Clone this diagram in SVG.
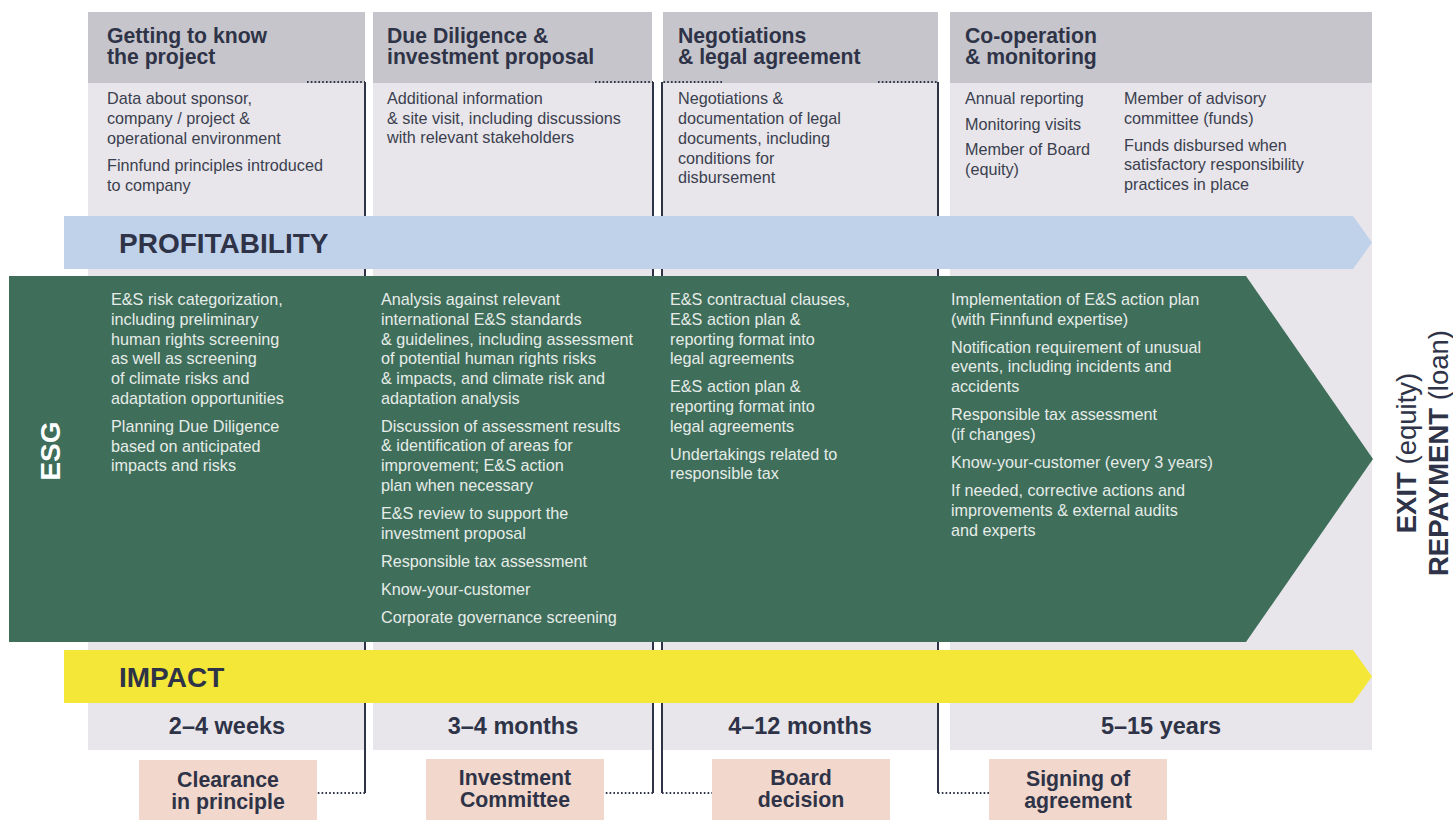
<svg xmlns="http://www.w3.org/2000/svg" width="1453" height="820" viewBox="0 0 1453 820">
<style>
.hdr{fill:#c6c5cb}
.body{fill:#e8e6ea}
.t{font-family:"Liberation Sans",Arial,sans-serif}
.h{font-family:"Liberation Sans",Arial,sans-serif;font-weight:bold;font-size:21.2px;fill:#2e3347}
.b{font-family:"Liberation Sans",Arial,sans-serif;font-size:16.2px;fill:#3b3f4f}
.e{font-family:"Liberation Sans",Arial,sans-serif;font-size:16.2px;fill:#e6ece8}
.dur{font-family:"Liberation Sans",Arial,sans-serif;font-weight:bold;font-size:23.5px;fill:#2e3347;text-anchor:middle}
.ms{font-family:"Liberation Sans",Arial,sans-serif;font-weight:bold;font-size:21.3px;fill:#2e3347;text-anchor:middle}
.big{font-family:"Liberation Sans",Arial,sans-serif;font-weight:bold;font-size:28px;fill:#2e3347}
.solid{stroke:#2e3347;stroke-width:2;fill:none}
.dot{stroke:#2e3347;stroke-width:1.8;fill:none;stroke-dasharray:1.6 2.2}
.peach{fill:#f2d7cc}
</style>

<g id="col1">
<rect class="hdr" x="88" y="12" width="277" height="71"/>
<rect class="body" x="88" y="83" width="277" height="667"/>
</g>
<g id="col2">
<rect class="hdr" x="373" y="12" width="279" height="71"/>
<rect class="body" x="373" y="83" width="279" height="667"/>
</g>
<g id="col3">
<rect class="hdr" x="663" y="12" width="275" height="71"/>
<rect class="body" x="663" y="83" width="275" height="667"/>
</g>
<g id="col4">
<rect class="hdr" x="950" y="12" width="422" height="71"/>
<rect class="body" x="950" y="83" width="422" height="667"/>
</g>

<g id="connectors">
<path class="dot" d="M307 82H365"/>
<path class="solid" d="M365 82V793"/>
<path class="dot" d="M365 793H296"/>
<path class="dot" d="M595 82H653"/>
<path class="solid" d="M653 82V793"/>
<path class="dot" d="M653 793H584"/>
<path class="dot" d="M722 82H662"/>
<path class="solid" d="M662 82V793"/>
<path class="dot" d="M662 793H733"/>
<path class="dot" d="M878 82H938"/>
<path class="solid" d="M938 82V793"/>
<path class="dot" d="M938 793H1009"/>
</g>

<g id="col1-text">
<text class="h" x="107" y="43">Getting to know<tspan x="107" dy="21">the project</tspan></text>
<text class="b" x="107" y="104">Data about sponsor,</text>
<text class="b" x="107" y="124">company / project &amp;</text>
<text class="b" x="107" y="144">operational environment</text>
<text class="b" x="107" y="171">Finnfund principles introduced</text>
<text class="b" x="107" y="191">to company</text>
</g>
<g id="col2-text">
<text class="h" x="387" y="43">Due Diligence &amp;<tspan x="387" dy="21">investment proposal</tspan></text>
<text class="b" x="387" y="104">Additional information</text>
<text class="b" x="387" y="124">&amp; site visit, including discussions</text>
<text class="b" x="387" y="143">with relevant stakeholders</text>
</g>
<g id="col3-text">
<text class="h" x="678" y="43">Negotiations<tspan x="678" dy="21">&amp; legal agreement</tspan></text>
<text class="b" x="678" y="104">Negotiations &amp;</text>
<text class="b" x="678" y="124">documentation of legal</text>
<text class="b" x="678" y="144">documents, including</text>
<text class="b" x="678" y="164">conditions for</text>
<text class="b" x="678" y="183">disbursement</text>
</g>
<g id="col4-text">
<text class="h" x="965" y="43">Co-operation<tspan x="965" dy="21">&amp; monitoring</tspan></text>
<text class="b" x="965" y="104">Annual reporting</text>
<text class="b" x="965" y="130">Monitoring visits</text>
<text class="b" x="965" y="155">Member of Board</text>
<text class="b" x="965" y="175">(equity)</text>
<text class="b" x="1124" y="104">Member of advisory</text>
<text class="b" x="1124" y="124">committee (funds)</text>
<text class="b" x="1124" y="151">Funds disbursed when</text>
<text class="b" x="1124" y="170">satisfactory responsibility</text>
<text class="b" x="1124" y="190">practices in place</text>
</g>

<g id="profitability">
<polygon fill="#c0d1ea" points="64,216 1353,216 1372,242.5 1353,269 64,269"/>
<text class="big" x="119" y="253">PROFITABILITY</text>
</g>

<g id="esg">
<polygon fill="#3f6e5b" points="9,276 1246,276 1373,459 1246,642 9,642"/>
<text class="t" transform="translate(60,451) rotate(-90)" text-anchor="middle" font-weight="bold" font-size="28" fill="#ffffff">ESG</text>
<text class="e" x="111" y="305">E&amp;S risk categorization,</text>
<text class="e" x="111" y="325">including preliminary</text>
<text class="e" x="111" y="345">human rights screening</text>
<text class="e" x="111" y="364">as well as screening</text>
<text class="e" x="111" y="384">of climate risks and</text>
<text class="e" x="111" y="404">adaptation opportunities</text>
<text class="e" x="111" y="432">Planning Due Diligence</text>
<text class="e" x="111" y="452">based on anticipated</text>
<text class="e" x="111" y="471">impacts and risks</text>

<text class="e" x="381" y="305">Analysis against relevant</text>
<text class="e" x="381" y="325">international E&amp;S standards</text>
<text class="e" x="381" y="345">&amp; guidelines, including assessment</text>
<text class="e" x="381" y="364">of potential human rights risks</text>
<text class="e" x="381" y="384">&amp; impacts, and climate risk and</text>
<text class="e" x="381" y="404">adaptation analysis</text>
<text class="e" x="381" y="432">Discussion of assessment results</text>
<text class="e" x="381" y="451">&amp; identification of areas for</text>
<text class="e" x="381" y="471">improvement; E&amp;S action</text>
<text class="e" x="381" y="491">plan when necessary</text>
<text class="e" x="381" y="519">E&amp;S review to support the</text>
<text class="e" x="381" y="539">investment proposal</text>
<text class="e" x="381" y="567">Responsible tax assessment</text>
<text class="e" x="381" y="595">Know-your-customer</text>
<text class="e" x="381" y="623">Corporate governance screening</text>

<text class="e" x="670" y="305">E&amp;S contractual clauses,</text>
<text class="e" x="670" y="325">E&amp;S action plan &amp;</text>
<text class="e" x="670" y="345">reporting format into</text>
<text class="e" x="670" y="364">legal agreements</text>
<text class="e" x="670" y="392">E&amp;S action plan &amp;</text>
<text class="e" x="670" y="412">reporting format into</text>
<text class="e" x="670" y="432">legal agreements</text>
<text class="e" x="670" y="460">Undertakings related to</text>
<text class="e" x="670" y="479">responsible tax</text>

<text class="e" x="951" y="305">Implementation of E&amp;S action plan</text>
<text class="e" x="951" y="325">(with Finnfund expertise)</text>
<text class="e" x="951" y="353">Notification requirement of unusual</text>
<text class="e" x="951" y="372">events, including incidents and</text>
<text class="e" x="951" y="392">accidents</text>
<text class="e" x="951" y="420">Responsible tax assessment</text>
<text class="e" x="951" y="440">(if changes)</text>
<text class="e" x="951" y="468">Know-your-customer (every 3 years)</text>
<text class="e" x="951" y="496">If needed, corrective actions and</text>
<text class="e" x="951" y="516">improvements &amp; external audits</text>
<text class="e" x="951" y="536">and experts</text>
</g>

<g id="impact">
<polygon fill="#f4e737" points="64,650 1353,650 1372,676.5 1353,703 64,703"/>
<text class="big" x="119" y="687">IMPACT</text>
</g>

<g id="durations">
<text class="dur" x="227" y="734">2–4 weeks</text>
<text class="dur" x="513" y="734">3–4 months</text>
<text class="dur" x="800" y="734">4–12 months</text>
<text class="dur" x="1161" y="734">5–15 years</text>
</g>

<g id="m-clearance">
<rect class="peach" x="139" y="760" width="178" height="60"/>
<text class="ms" x="228" y="787">Clearance<tspan x="228" dy="22">in principle</tspan></text>
</g>
<g id="m-ic">
<rect class="peach" x="426" y="759" width="178" height="61"/>
<text class="ms" x="515" y="784.5">Investment<tspan x="515" dy="22">Committee</tspan></text>
</g>
<g id="m-board">
<rect class="peach" x="712" y="759" width="178" height="61"/>
<text class="ms" x="801" y="785">Board<tspan x="801" dy="22">decision</tspan></text>
</g>
<g id="m-signing">
<rect class="peach" x="989" y="759" width="178" height="61"/>
<text class="ms" x="1078" y="785.5">Signing of<tspan x="1078" dy="22">agreement</tspan></text>
</g>

<g id="exit">
<text class="t" transform="translate(1416,453) rotate(-90)" text-anchor="middle" font-size="27.5" fill="#2e3347"><tspan font-weight="bold">EXIT</tspan> (equity)</text>
<text class="t" transform="translate(1448,453) rotate(-90)" text-anchor="middle" font-size="27.5" fill="#2e3347"><tspan font-weight="bold">REPAYMENT</tspan> (loan)</text>
</g>
</svg>
